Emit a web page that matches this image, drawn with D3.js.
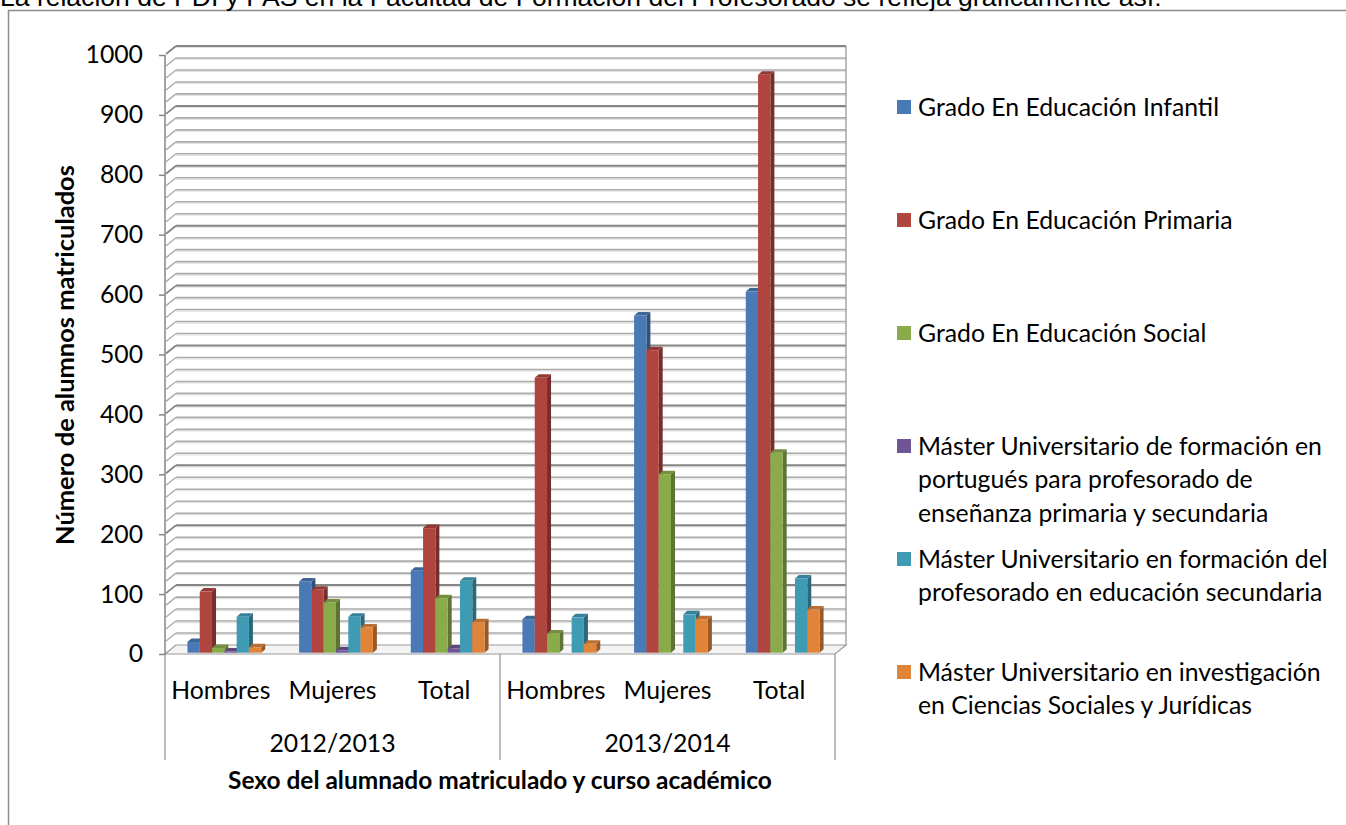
<!DOCTYPE html>
<html><head><meta charset="utf-8">
<script src="https://cdn.jsdelivr.net/npm/d3@7"></script>
<style>body{margin:0;background:#fff;overflow:hidden} svg{display:block}</style>
</head><body>
<svg id="c" width="1346" height="825"></svg>
<script>
// ---------- data ----------
const categories = ["Hombres", "Mujeres", "Total", "Hombres", "Mujeres", "Total"];
const years = ["2012/2013", "2013/2014"];
const seriesNames = [
  "Grado En Educación Infantil",
  "Grado En Educación Primaria",
  "Grado En Educación Social",
  "Máster Universitario de formación en portugués para profesorado de enseñanza primaria y secundaria",
  "Máster Universitario en formación del profesorado en educación secundaria",
  "Máster Universitario en investigación en Ciencias Sociales y Jurídicas"
];
const legendLines = [
  ["Grado En Educación Infantil"],
  ["Grado En Educación Primaria"],
  ["Grado En Educación Social"],
  ["Máster Universitario de formación en", "portugués para profesorado de", "enseñanza primaria y secundaria"],
  ["Máster Universitario en formación del", "profesorado en educación secundaria"],
  ["Máster Universitario en investigación", "en Ciencias Sociales y Jurídicas"]
];
const infantil      = [18, 119, 137, 56, 563, 603];
const primaria      = [102, 105, 208, 459, 505, 965];
const social        = [8, 84, 91, 32, 298, 334];
const portugues     = [2, 4, 7, 0, 0, 0];
const secundaria    = [60, 60, 120, 59, 64, 124];
const investigacion = [9, 42, 51, 15, 56, 72];
const yTicks = [0, 100, 200, 300, 400, 500, 600, 700, 800, 900, 1000];
const yTitle = "Número de alumnos matriculados";
const xTitle = "Sexo del alumnado matriculado y curso académico";
const topText = "La relación de PDI y PAS en la Facultad de Formación del Profesorado se refleja gráficamente así:";

const seriesValues = [infantil, primaria, social, portugues, secundaria, investigacion];
const colors = ["#4a7ab5", "#b0443f", "#8aab4b", "#6f5595", "#3f9ab4", "#e0843a"];

// ---------- layout ----------
const svg = d3.select("#c");
const FONT = "Lato, 'Open Sans', sans-serif";
const X0 = 165, X1 = 835;
const DX = 11, DY = -9;          // wall depth
const BDX = 4, BDY = -3.5;       // bar depth
const BAR_OFF_X = 3.5, BAR_OFF_Y = -1.3;

const y = d3.scaleLinear().domain([0, 1000]).range([654, 55]);
const x0 = d3.scaleBand().domain(d3.range(categories.length)).range([X0, X1]).padding(0);
const barW = 12.3;
const x1 = d3.scaleBand().domain(d3.range(seriesNames.length)).range([0, barW * seriesNames.length]).padding(0);

// outer frame + top text
svg.append("rect").attr("x", 8.5).attr("y", 10.5).attr("width", 1400).attr("height", 900)
  .attr("fill", "none").attr("stroke", "#8c8c8c").attr("stroke-width", 1.5);
const topT = svg.append("text").attr("x", 0).attr("y", 6).text(topText)
  .attr("font-family", "'Liberation Sans', Arial, sans-serif").attr("font-size", 21).attr("fill", "#000");
topT.attr("font-size", 21 * 1162 / topT.node().getComputedTextLength());

// floor
const floorPts = [[X0, y(0)], [X1, y(0)], [X1 + DX, y(0) + DY], [X0 + DX, y(0) + DY]];
svg.append("path").attr("d", d3.line()(floorPts) + "Z").attr("fill", "#f4f4f4").attr("stroke", "#9a9a9a").attr("stroke-width", 1.2);

// gridlines (every 20)
const gridVals = d3.range(20, 1001, 20);
const gg = svg.append("g");
gridVals.forEach(v => {
  const major = v % 100 === 0;
  const yy = y(v) + DY;
  gg.append("line").attr("x1", X0 + DX).attr("x2", X1 + DX).attr("y1", yy + 1.5).attr("y2", yy + 1.5)
    .attr("stroke", "#e2e2e2").attr("stroke-width", 1.2);
  gg.append("line").attr("x1", X0 + DX).attr("x2", X1 + DX).attr("y1", yy).attr("y2", yy)
    .attr("stroke", major ? "#858585" : "#ababab").attr("stroke-width", major ? 2 : 1.6);
  gg.append("line").attr("x1", X0 + 1).attr("x2", X0 + DX).attr("y1", y(v) - 1).attr("y2", yy)
    .attr("stroke", major ? "#858585" : "#ababab").attr("stroke-width", major ? 1.8 : 1.4);
});
// back right edge
svg.append("line").attr("x1", X1 + DX).attr("x2", X1 + DX).attr("y1", y(1000) + DY).attr("y2", y(0) + DY)
  .attr("stroke", "#9a9a9a").attr("stroke-width", 1.3);

// y axis
svg.append("line").attr("x1", X0).attr("x2", X0).attr("y1", y(1000)).attr("y2", y(0) + 1)
  .attr("stroke", "#868686").attr("stroke-width", 1.5);
const yAxisG = svg.append("g").attr("transform", `translate(${X0},0)`)
  .call(d3.axisLeft(y).tickValues(yTicks).tickSize(6).tickPadding(16).tickFormat(d3.format("d")));
yAxisG.select(".domain").remove();
yAxisG.selectAll(".tick line").attr("stroke", "#868686").attr("stroke-width", 1.5);
yAxisG.selectAll(".tick text").attr("font-family", FONT).attr("fill", "#000");

// bars
const bars = svg.append("g");
categories.forEach((c, gi) => {
  const gStart = x0(gi) + (x0.bandwidth() - barW * seriesNames.length) / 2 + BAR_OFF_X;
  seriesValues.forEach((vals, si) => {
    const v = vals[gi];
    if (!v) return;
    const bx = gStart + x1(si);
    const yt = y(v) + BAR_OFF_Y, yb = y(0) + BAR_OFF_Y;
    const col = d3.color(colors[si]);
    const g = bars.append("g");
    g.append("path").attr("d", d3.line()([[bx + barW, yt], [bx + barW + BDX, yt + BDY], [bx + barW + BDX, yb + BDY], [bx + barW, yb]]) + "Z")
      .attr("fill", col.darker(1.1));
    g.append("path").attr("d", d3.line()([[bx, yt], [bx + BDX, yt + BDY], [bx + barW + BDX, yt + BDY], [bx + barW, yt]]) + "Z")
      .attr("fill", col.darker(0.5));
    g.append("rect").attr("x", bx).attr("y", yt).attr("width", barW).attr("height", yb - yt).attr("fill", col);
  });
});

// category axis
const catG = svg.append("g");
[X0, (X0 + X1) / 2, X1].forEach(xx => {
  catG.append("line").attr("x1", xx).attr("x2", xx).attr("y1", y(0)).attr("y2", 760)
    .attr("stroke", "#9a9a9a").attr("stroke-width", 1.3);
});
const catTexts = catG.selectAll(".cat").data(categories).join("text")
  .attr("x", (d, i) => x0(i) + x0.bandwidth() / 2).attr("y", 690).attr("dy", "0.35em")
  .attr("text-anchor", "middle").attr("font-family", FONT).attr("fill", "#000").text(d => d);
const yearTexts = catG.selectAll(".yr").data(years).join("text")
  .attr("x", (d, i) => X0 + (X1 - X0) / 4 + i * (X1 - X0) / 2).attr("y", 743).attr("dy", "0.35em")
  .attr("text-anchor", "middle").attr("font-family", FONT).attr("fill", "#000").text(d => d);

// titles
const xT = svg.append("text").attr("x", 500).attr("y", 780).attr("dy", "0.35em").attr("text-anchor", "middle")
  .attr("font-family", FONT).attr("font-weight", "bold").attr("font-size", 20).text(xTitle);
const yT = svg.append("text").attr("transform", "translate(65,355) rotate(-90)").attr("dy", "0.35em").attr("text-anchor", "middle")
  .attr("font-family", FONT).attr("font-weight", "bold").attr("font-size", 20).text(yTitle);

// legend
const legY = [107, 220, 333, 446, 559, 672];
const LH = 33.5;
const leg = svg.append("g");
const legTexts = [];
legendLines.forEach((lines, i) => {
  leg.append("rect").attr("x", 897).attr("y", legY[i] - 7).attr("width", 14).attr("height", 14).attr("fill", colors[i]);
  lines.forEach((ln, j) => {
    legTexts.push(leg.append("text").attr("x", 918).attr("y", legY[i] + j * LH).attr("dy", "0.35em")
      .attr("font-family", FONT).attr("fill", "#000").attr("font-size", 20).text(ln));
  });
});

// font fitting
const ref = legTexts[3];
const fs = 20 * 404 / ref.node().getComputedTextLength();
legTexts.forEach(t => t.attr("font-size", fs));
catTexts.attr("font-size", fs);
yearTexts.attr("font-size", fs);
yAxisG.selectAll(".tick text").attr("font-size", fs);
xT.attr("font-size", 20 * 544 / xT.node().getComputedTextLength());
yT.attr("font-size", 20 * 380 / yT.node().getComputedTextLength());
</script>
</body></html>
